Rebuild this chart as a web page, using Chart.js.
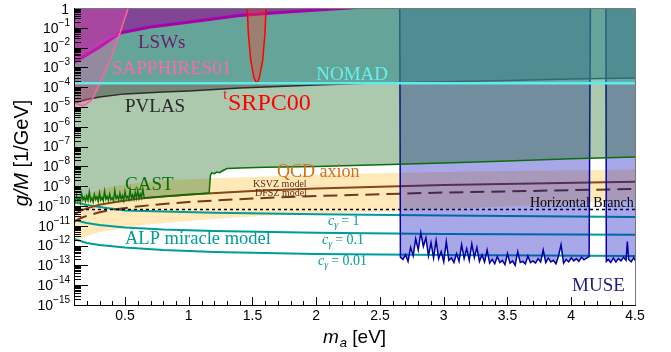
<!DOCTYPE html>
<html><head><meta charset="utf-8">
<script src="https://cdn.jsdelivr.net/npm/chart.js@4.4.0/dist/chart.umd.min.js"></script>
<style>html,body{margin:0;padding:0;background:#fff;overflow:hidden}canvas{display:block}</style>
</head><body>
<canvas id="c" width="671" height="352"></canvas>
<script>
// ---------------- data ----------------
const xTicksMajor = [0.5, 1, 1.5, 2, 2.5, 3, 3.5, 4, 4.5];
const yDecades = [0,-1,-2,-3,-4,-5,-6,-7,-8,-9,-10,-11,-12,-13,-14,-15];

const qcdMass  = [0.1,0.2,0.3,0.45,0.64,0.9,1.2,1.6,2,2.65,3.2,3.8,4.2,4.5];
const qcdUpper = [1.4e-10,4e-10,6.5e-10,1.1e-9,1.6e-9,2.1e-9,2.5e-9,3.1e-9,3.8e-9,4.8e-9,5.5e-9,6.2e-9,6.6e-9,7e-9];
const qcdLower = [1.5e-12,3e-12,4.9e-12,6.9e-12,1.1e-11,1.55e-11,2.2e-11,3.2e-11,4e-11,5.6e-11,7.6e-11,1.15e-10,1.6e-10,2e-10];

const modelMass = [0.1,0.15,0.2,0.3,0.4,0.6,0.8,1,1.5,2,3,4.5];
const ksvz = [3.8e-11,5.7e-11,7.6e-11,1.15e-10,1.5e-10,2.3e-10,3.0e-10,3.8e-10,5.7e-10,7.6e-10,1.15e-9,1.7e-9];
const dfsz = [1.6e-11,2.4e-11,3.2e-11,4.8e-11,6.4e-11,9.5e-11,1.27e-10,1.6e-10,2.4e-10,3.2e-10,4.8e-10,7.2e-10];

const hbMass = [0.1, 4.5];
const hbG = [6.6e-11, 6.6e-11];

const alpMass = [0.1,0.2,0.3,0.5,0.8,1.2,2,3,4.5];
const alpC1   = [1.59e-10,1.12e-10,8.9e-11,6.0e-11,5.2e-11,4.5e-11,3.8e-11,3.3e-11,2.8e-11];
const alpC01  = [1.95e-11,1.38e-11,1.1e-11,8.2e-12,6.5e-12,5.5e-12,4.4e-12,3.9e-12,3.5e-12];
const alpC001 = [2.15e-12,1.35e-12,1.07e-12,8.0e-13,6.0e-13,4.8e-13,3.8e-13,3.4e-13,3.0e-13];

const castMass = [0.10,0.11,0.12,0.13,0.14,0.15,0.16,0.17,0.18,0.19,0.20,0.21,0.22,0.23,0.24,0.25,0.26,0.27,0.28,0.29,
  0.30,0.31,0.32,0.33,0.34,0.35,0.36,0.37,0.38,0.39,0.40,0.41,0.42,0.43,0.44,0.45,0.46,0.47,0.48,0.49,
  0.50,0.51,0.52,0.53,0.54,0.55,0.56,0.57,0.58,0.59,0.60,0.61,0.62,0.63,0.64,0.65,
  0.7,0.8,0.9,1.0,1.1,1.16,1.17,1.18,1.2,1.22,1.24,1.27,1.3,1.4,1.6,2,2.5,3,3.5,4,4.5];
const castG = [2.2e-10,1.6e-10,3.5e-10,1.8e-10,2.6e-10,1.5e-10,4.2e-10,2.0e-10,2.8e-10,1.7e-10,
  3.2e-10,1.9e-10,5.0e-10,1.8e-10,2.5e-10,1.6e-10,3.8e-10,2.1e-10,2.9e-10,1.7e-10,
  4.5e-10,2.0e-10,2.7e-10,1.8e-10,5.5e-10,2.2e-10,3.0e-10,1.9e-10,4.0e-10,2.1e-10,
  2.6e-10,1.8e-10,6.0e-10,2.3e-10,3.1e-10,2.0e-10,4.4e-10,2.2e-10,3.3e-10,1.9e-10,
  5.2e-10,2.4e-10,3.0e-10,2.1e-10,6.5e-10,2.3e-10,3.6e-10,2.2e-10,4.8e-10,2.5e-10,
  5.8e-10,2.4e-10,4.0e-10,2.6e-10,7.0e-10,2.6e-10,
  2.7e-10,3.0e-10,3.3e-10,3.7e-10,4.2e-10,4.5e-10,3.5e-9,4.7e-9,4.3e-9,5.2e-9,4.8e-9,6.2e-9,7.8e-9,8.4e-9,9e-9,1.0e-8,1.2e-8,1.5e-8,1.9e-8,2.4e-8,3e-8];

const pvlasMass = [0.1,0.2,0.3,0.5,0.8,1.0,1.4,2.0,2.4,3.0,3.5,4.0,4.5];
const pvlasG = [1.6e-5,2.4e-5,3.2e-5,4.6e-5,5.8e-5,6.5e-5,9e-5,1.3e-4,1.6e-4,1.9e-4,2.2e-4,2.6e-4,2.9e-4];

const nomadMass = [0.1, 4.5];
const nomadG = [1.6e-4, 1.6e-4];

const lswMass = [0.1,0.2,0.3,0.46,0.7,0.95,1.4,1.8,2.2,2.35];
const lswG = [1.7e-3,4.3e-3,1.05e-2,0.055,0.11,0.175,0.42,0.65,0.95,1.1];
const lsw2Mass = [0.1,0.2,0.3,0.4,0.46];
const lsw2G = [3e-3,7.6e-3,0.017,0.035,0.055];

const sapMass = [0.1,0.173,0.239,0.304,0.382,0.461,0.526];
const sapG = [1.6e-5,1.1e-5,2.2e-5,1.6e-4,2.3e-3,0.055,1];

const srpcMass = [1.459,1.467,1.486,1.512,1.535,1.553,1.580,1.598,1.606];
const srpcG = [1,0.055,2.3e-3,2.9e-4,1.5e-4,2.9e-4,2.3e-3,0.055,1];

const muse1Mass = [2.655,2.66,2.68,2.70,2.72,2.74,2.76,2.78,2.80,2.82,2.84,2.86,2.88,2.90,2.92,2.94,2.96,2.98,
  3.00,3.02,3.04,3.06,3.08,3.10,3.12,3.14,3.16,3.18,3.20,3.22,3.24,3.26,3.28,3.30,3.32,3.34,3.36,3.38,
  3.40,3.42,3.44,3.46,3.48,3.50,3.52,3.54,3.56,3.58,3.60,3.62,3.64,3.66,3.68,3.70,3.72,3.74,3.76,3.78,
  3.80,3.82,3.84,3.86,3.88,3.90,3.92,3.94,3.96,3.98,4.00,4.02,4.04,4.06,4.08,4.10,4.12,4.14,4.15];
const muse1G = [1,2.6e-13,2.0e-13,3.5e-13,1.6e-13,8e-13,3e-13,2.2e-12,6e-13,4.5e-12,9e-13,2.5e-12,3e-13,1.4e-12,2.4e-13,1.8e-12,2.2e-13,5e-13,
  1.5e-13,1.6e-12,1.8e-13,2.4e-13,1.4e-13,4e-13,1.6e-13,1.1e-12,2.2e-13,7e-13,1.8e-13,1.2e-12,2.5e-13,8e-13,1.6e-13,3.5e-13,1.5e-13,6e-13,1.3e-13,2e-13,
  1.2e-13,2.8e-13,1.4e-13,1.8e-13,1.1e-13,4e-13,1.3e-13,1.7e-13,1.0e-13,5e-13,1.4e-13,1.6e-13,1.2e-13,3e-13,1.4e-13,1.7e-13,1.3e-13,2.2e-13,1.5e-13,6e-13,
  1.4e-13,2.4e-13,1.5e-13,1.8e-13,1.2e-13,3e-13,1.1e-12,1.3e-13,2e-13,1.5e-13,2.4e-13,1.7e-13,2.2e-13,1.6e-13,2.6e-13,1.9e-13,2.3e-13,2.8e-13,1];

const muse2Mass = [4.272,4.275,4.29,4.31,4.33,4.35,4.37,4.39,4.41,4.43,4.44,4.45,4.47,4.49,4.5];
const muse2G = [1,1.6e-13,2e-13,1.4e-13,2.4e-13,1.5e-13,2.2e-13,1.7e-13,2.6e-13,1.8e-13,1.6e-12,2e-13,1.5e-13,2.5e-13,1.8e-13];

// ---------------- build chart ----------------
const pts = (xs, ys) => xs.map((x, i) => ({x, y: ys[i]}));
const SANS = '"Liberation Sans", Arial, Helvetica, sans-serif';
const SERIF = '"Liberation Serif", "Times New Roman", serif';
const TEAL = 'rgb(0,155,155)';

const datasets = [
  {label:'QCD lower', data:pts(qcdMass,qcdLower), borderWidth:0, fill:false, order:100},
  {label:'QCD band', data:pts(qcdMass,qcdUpper), borderWidth:0, fill:0, backgroundColor:'rgba(255,200,80,0.4)', order:99},
  {label:'c=1', data:pts(alpMass,alpC1), borderColor:TEAL, borderWidth:2, fill:false, order:90},
  {label:'c=0.1', data:pts(alpMass,alpC01), borderColor:TEAL, borderWidth:2, fill:false, order:90},
  {label:'c=0.01', data:pts(alpMass,alpC001), borderColor:TEAL, borderWidth:2, fill:false, order:90},
  {label:'KSVZ', data:pts(modelMass,ksvz), borderColor:'rgb(135,70,25)', borderWidth:2, fill:false, order:88},
  {label:'DFSZ', data:pts(modelMass,dfsz), borderColor:'rgb(115,55,25)', borderWidth:2, borderDash:[14,7], fill:false, order:88},
  {label:'HB', data:pts(hbMass,hbG), borderColor:'#000', borderWidth:1.5, borderDash:[3,3], fill:false, order:87},
  {label:'MUSE1', data:pts(muse1Mass,muse1G), borderColor:'rgb(0,0,165)', borderWidth:1.5, fill:'end', backgroundColor:'rgba(0,0,190,0.34)', order:85},
  {label:'MUSE2', data:pts(muse2Mass,muse2G), borderColor:'rgb(0,0,165)', borderWidth:1.5, fill:'end', backgroundColor:'rgba(0,0,190,0.34)', order:84},
  {label:'CAST', data:pts(castMass,castG), borderColor:'rgb(10,110,10)', borderWidth:1.5, fill:'end', backgroundColor:'rgba(0,86,0,0.32)', order:80},
  {label:'PVLAS', data:pts(pvlasMass,pvlasG), borderColor:'rgb(45,45,45)', borderWidth:1.5, fill:'end', backgroundColor:'rgba(40,40,40,0.41)', order:70},
  {label:'NOMAD fill', data:pts(nomadMass,nomadG), borderWidth:0, fill:'end', backgroundColor:'rgba(70,220,215,0.35)', order:60},
  {label:'LSW', data:pts(lswMass,lswG), borderColor:'rgb(170,0,170)', borderWidth:3, fill:'end', backgroundColor:'rgba(150,0,150,0.58)', order:50},
  {label:'LSW2', data:pts(lsw2Mass,lsw2G), borderColor:'rgb(200,40,200)', borderWidth:1.2, fill:false, order:49},
  {label:'SAPPHIRES01', data:pts(sapMass,sapG), borderColor:'rgb(255,100,160)', borderWidth:1.5, fill:'end', backgroundColor:'rgba(255,80,180,0.3)', order:40},
  {label:'SRPC00', data:pts(srpcMass,srpcG), borderColor:'rgb(255,0,0)', borderWidth:1.5, fill:'shape', backgroundColor:'rgba(255,60,40,0.35)', order:30},
  {label:'NOMAD', data:pts(nomadMass,nomadG), borderColor:'rgb(95,235,235)', borderWidth:2.5, fill:false, order:5}
];

const annotations = [
  {t:'LSWs', m:0.602, g:9.5e-3, size:19, color:'rgb(105,30,110)'},
  {t:'SAPPHIRES01', m:0.398, g:4.6e-4, size:19, color:'rgb(255,105,170)'},
  {t:'PVLAS', m:0.5, g:5.6e-6, size:19, color:'rgb(40,40,40)'},
  {t:'NOMAD', m:2.0, g:2.3e-4, size:19, color:'rgb(100,240,240)'},
  {t:'CAST', m:0.5, g:6.4e-10, size:19, color:'rgb(10,110,10)'},
  {t:'QCD axion', m:1.692, g:2.9e-9, size:18, color:'rgb(215,110,20)'},
  {t:'KSVZ model', m:1.504, g:9.1e-10, size:10, color:'rgb(95,45,20)'},
  {t:'DFSZ model', m:1.52, g:3.2e-10, size:10, color:'rgb(95,45,20)'},
  {t:'Horizontal Branch', m:3.676, g:8.9e-11, size:14, color:'#000'},
  {t:'ALP miracle model', m:0.5, g:1.2e-12, size:18.5, color:TEAL},
  {t:'MUSE', m:4.006, g:5.1e-15, size:19, color:'rgb(30,30,130)'}
];
const cgLabels = [
  {v:'1', m:2.092, g:1.1e-11},
  {v:'0.1', m:2.045, g:1.2e-12},
  {v:'0.01', m:2.014, g:1.05e-13}
];
const srpcLabel = {m:1.308, g:7e-6};

const decor = {
  id:'decor',
  afterDatasetsDraw(chart){
    const {ctx, chartArea:a, scales:{x, y}} = chart;
    ctx.save();
    ctx.textBaseline = 'alphabetic';
    ctx.textAlign = 'left';
    annotations.forEach(L => {
      ctx.font = L.size + 'px ' + SERIF;
      ctx.fillStyle = L.color;
      ctx.fillText(L.t, x.getPixelForValue(L.m), y.getPixelForValue(L.g));
    });
    {
      const px = x.getPixelForValue(srpcLabel.m), py = y.getPixelForValue(srpcLabel.g);
      ctx.fillStyle = 'rgb(255,0,0)';
      ctx.font = '24px ' + SERIF;
      ctx.fillText('SRPC00', px, py);
      ctx.font = '14px ' + SERIF;
      const tw = ctx.measureText('t').width;
      ctx.fillText('t', px - tw - 1, py - 11);
    }
    cgLabels.forEach(L => {
      let px = x.getPixelForValue(L.m); const py = y.getPixelForValue(L.g);
      ctx.fillStyle = TEAL;
      ctx.font = 'italic 14px ' + SERIF;
      ctx.fillText('c', px, py); px += ctx.measureText('c').width;
      ctx.font = 'italic 10px ' + SERIF;
      ctx.fillText('\u03B3', px, py + 3); px += ctx.measureText('\u03B3').width + 3;
      ctx.font = '14px ' + SERIF;
      ctx.fillText('= ' + L.v, px, py);
    });
    ctx.restore();
  },
  afterDraw(chart){
    const {ctx, chartArea:a, scales:{x, y}} = chart;
    ctx.save();
    ctx.strokeStyle = '#000';
    ctx.lineWidth = 1;
    ctx.beginPath();
    for (let i = 1; i <= 45; i++) {
      const px = Math.round(x.getPixelForValue(i / 10)) + 0.5;
      const len = (i % 5 === 0) ? 8 : 4;
      ctx.moveTo(px, a.bottom); ctx.lineTo(px, a.bottom - len);
    }
    yDecades.forEach(n => {
      for (let k = 1; k <= 9; k++) {
        const v = k * Math.pow(10, n);
        if (v > 1.0001) continue;
        const py = Math.round(y.getPixelForValue(v)) + 0.5;
        const len = (k === 1) ? 14 : 7;
        ctx.moveTo(a.left, py); ctx.lineTo(a.left + len, py);
      }
    });
    ctx.stroke();
    ctx.strokeStyle = 'rgb(120,120,120)';
    ctx.beginPath();
    ctx.moveTo(a.left, a.top + 0.5); ctx.lineTo(a.right + 0.5, a.top + 0.5); ctx.lineTo(a.right + 0.5, a.bottom);
    ctx.stroke();
    ctx.strokeStyle = '#000';
    ctx.beginPath();
    ctx.moveTo(a.left + 0.5, a.top); ctx.lineTo(a.left + 0.5, a.bottom + 0.5); ctx.lineTo(a.right + 1, a.bottom + 0.5);
    ctx.stroke();
    ctx.fillStyle = '#000';
    ctx.textBaseline = 'middle';
    ctx.textAlign = 'left';
    const rx = a.left - 4;
    yDecades.forEach(n => {
      const py = y.getPixelForValue(Math.pow(10, n));
      if (n === 0) {
        ctx.font = '14px ' + SANS;
        const w = ctx.measureText('1').width;
        ctx.fillText('1', rx - w - 1, py + 2);
        return;
      }
      const ex = '\u2212' + (-n);
      ctx.font = '10px ' + SANS;
      const we = ctx.measureText(ex).width;
      ctx.fillText(ex, rx - we, py - 5);
      ctx.font = '14px ' + SANS;
      const wb = ctx.measureText('10').width;
      ctx.fillText('10', rx - we - wb, py + 1);
    });
    ctx.textBaseline = 'alphabetic';
    {
      let px = 323; const py = 343;
      ctx.font = 'italic 19px ' + SANS;
      ctx.fillText('m', px, py); px += ctx.measureText('m').width + 1;
      ctx.font = 'italic 13px ' + SANS;
      ctx.fillText('a', px, py + 4); px += ctx.measureText('a').width;
      ctx.font = '19px ' + SANS;
      ctx.fillText(' [eV]', px, py);
    }
    {
      ctx.translate(22, 153);
      ctx.rotate(-Math.PI / 2);
      ctx.textBaseline = 'middle';
      ctx.font = 'italic 20px ' + SANS;
      const w1 = ctx.measureText('g/M').width;
      ctx.font = '20px ' + SANS;
      const w2 = ctx.measureText(' [1/GeV]').width;
      let px = -(w1 + w2) / 2;
      ctx.font = 'italic 20px ' + SANS;
      ctx.fillText('g/M', px, 0);
      ctx.font = '20px ' + SANS;
      ctx.fillText(' [1/GeV]', px + w1, 0);
    }
    ctx.restore();
  }
};

new Chart(document.getElementById('c'), {
  type:'line',
  data:{datasets},
  options:{
    responsive:false, animation:false, devicePixelRatio:1,
    layout:{padding:{left:0, right:36, top:8, bottom:0}},
    plugins:{legend:{display:false}, tooltip:{enabled:false}},
    elements:{point:{radius:0, hoverRadius:0}, line:{tension:0}},
    scales:{
      x:{type:'linear', min:0.1, max:4.5,
         grid:{display:false, drawTicks:false}, border:{display:false},
         ticks:{stepSize:0.5, autoSkip:false, maxRotation:0, padding:3, color:'#000',
                font:{family:SANS, size:14},
                callback:(v) => { const r = Math.round(v*10)/10; return xTicksMajor.includes(r) ? String(r) : ''; }},
         afterFit:(s) => { s.height = 47; }},
      y:{type:'logarithmic', min:1e-15, max:1,
         grid:{display:false, drawTicks:false}, border:{display:false},
         ticks:{display:false},
         afterFit:(s) => { s.width = 74; }}
    }
  },
  plugins:[decor]
});
</script>
</body></html>
